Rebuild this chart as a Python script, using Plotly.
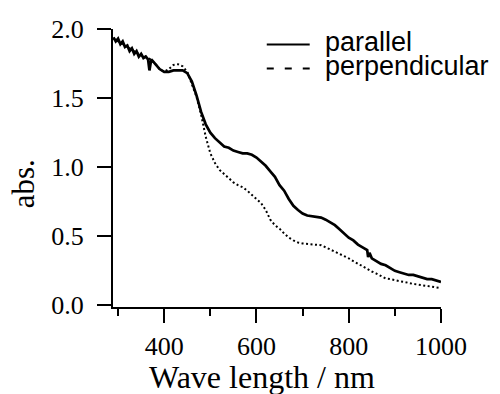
import plotly.graph_objects as go

# ---- data ----
wl_par = [290, 295, 300, 305, 310, 315, 320, 325, 330, 335, 340, 345, 350, 355, 360, 365, 368,
          372, 380, 390, 400, 410, 420, 430, 440, 450, 460, 470, 480, 490, 500, 510, 520, 530,
          540, 550, 560, 570, 580, 590, 600, 610, 620, 630, 640, 650, 660, 670, 680,
          690, 700, 710, 720, 730, 740, 750, 760, 770, 780, 790, 800, 810, 820,
          830, 840, 842, 845, 850, 860, 870, 880, 890, 900, 910, 920, 930, 940,
          950, 960, 970, 980, 990, 1000]
abs_par = [1.94, 1.91, 1.93, 1.89, 1.91, 1.87, 1.88, 1.84, 1.86, 1.82, 1.84, 1.80, 1.82, 1.79, 1.80,
           1.78, 1.70, 1.78, 1.75, 1.71, 1.69, 1.69, 1.70, 1.70, 1.70, 1.68, 1.62, 1.52, 1.40,
           1.31, 1.25, 1.21, 1.18, 1.15, 1.14, 1.12, 1.11, 1.10, 1.10, 1.09, 1.07, 1.04, 1.01,
           0.97, 0.93, 0.87, 0.83, 0.77, 0.72, 0.69, 0.665, 0.65, 0.645, 0.64, 0.635, 0.62,
           0.60, 0.58, 0.55, 0.52, 0.49, 0.47, 0.44, 0.42, 0.40, 0.35, 0.38, 0.34, 0.32, 0.30,
           0.29, 0.27, 0.25, 0.24, 0.23, 0.22, 0.22, 0.21, 0.20, 0.19, 0.19, 0.18, 0.17]

wl_perp = [290, 300, 310, 320, 330, 340, 350, 360, 370, 380, 390, 400, 410, 420,
           430, 440, 450, 460, 470, 480, 490, 500, 510, 520, 530, 540, 550, 560,
           570, 580, 590, 600, 610, 620, 630, 640, 650, 660, 670, 680, 690, 700,
           710, 720, 730, 740, 750, 760, 770, 780, 790, 800, 810, 820, 830, 840,
           850, 860, 870, 880, 890, 900, 910, 920, 930, 940, 950, 960, 970, 980,
           990, 1000]
abs_perp = [1.93, 1.91, 1.89, 1.87, 1.85, 1.83, 1.81, 1.80, 1.78, 1.75, 1.71, 1.69, 1.71, 1.74,
            1.745, 1.73, 1.69, 1.60, 1.51, 1.38, 1.22, 1.10, 1.03, 0.98, 0.95, 0.92, 0.89, 0.87,
            0.855, 0.83, 0.80, 0.77, 0.74, 0.69, 0.62, 0.58, 0.555, 0.52, 0.49, 0.47, 0.455, 0.448,
            0.445, 0.44, 0.44, 0.435, 0.42, 0.405, 0.39, 0.375, 0.355, 0.34, 0.32, 0.30, 0.28, 0.26,
            0.245, 0.23, 0.21, 0.195, 0.19, 0.18, 0.175, 0.17, 0.16, 0.155, 0.15, 0.145, 0.14, 0.135,
            0.13, 0.125]

series_names = ["parallel", "perpendicular"]
x_ticks = [400, 600, 800, 1000]
x_minor = [300, 500, 700, 900]
y_ticks = [0.0, 0.5, 1.0, 1.5, 2.0]
x_title = "Wave length / nm"
y_title = "abs."

# ---- layout geometry (pixels) ----
W, H = 500, 394
L, R, T, B = 113, 441.5, 29, 306.7

def px(x):
    return (x - L) / (R - L)

def py(y):
    return 1 - (y - T) / (B - T)

fig = go.Figure()
fig.add_trace(go.Scatter(x=wl_par, y=abs_par, mode="lines", name=series_names[0],
                         line=dict(color="black", width=2.7), showlegend=False))
fig.add_trace(go.Scatter(x=wl_perp, y=abs_perp, mode="lines", name=series_names[1],
                         line=dict(color="black", width=2, dash="2px,2.5px"), showlegend=False))

serif = "Liberation Serif, Times New Roman, serif"
sans = "Liberation Sans, Arial, sans-serif"
tick_font = dict(family=serif, size=26, color="black")

fig.update_layout(
    width=W, height=H,
    font=dict(family=serif, size=26, color="black"),
    margin=dict(l=L, r=W - R, t=T, b=H - B, pad=0),
    paper_bgcolor="white", plot_bgcolor="white",
    showlegend=False,
)
fig.update_xaxes(range=[289, 1000], tickvals=x_ticks, ticktext=[str(v) for v in x_ticks],
                 ticks="outside", ticklen=14, tickwidth=2, tickcolor="black",
                 showline=True, linewidth=2, linecolor="black", showgrid=False, zeroline=False,
                 tickfont=tick_font, ticklabelstandoff=1,
                 minor=dict(tickvals=x_minor, ticks="outside", ticklen=7,
                            tickwidth=2, tickcolor="black", showgrid=False))
fig.update_yaxes(range=[-0.012, 2.0], tickvals=y_ticks, ticktext=["%.1f" % v for v in y_ticks],
                 ticks="outside", ticklen=14, tickwidth=2, tickcolor="black",
                 showline=True, linewidth=2, linecolor="black", showgrid=False, zeroline=False,
                 tickfont=tick_font, ticklabelstandoff=8)

# axis titles
fig.add_annotation(text=x_title, xref="paper", yref="paper", x=px(262), y=py(377),
                   xanchor="center", yanchor="middle", showarrow=False,
                   font=dict(family=serif, size=32, color="black"))
fig.add_annotation(text=y_title, xref="paper", yref="paper", x=px(23), y=py(184),
                   xanchor="center", yanchor="middle", showarrow=False, textangle=-90,
                   font=dict(family=serif, size=31, color="black"))

# legend
fig.add_shape(type="line", xref="paper", yref="paper", x0=px(267), x1=px(310),
              y0=py(44.5), y1=py(44.5), line=dict(color="black", width=2))
fig.add_shape(type="line", xref="paper", yref="paper", x0=px(267), x1=px(310),
              y0=py(68.5), y1=py(68.5), line=dict(color="black", width=2, dash="7px,11px"))
fig.add_annotation(text=series_names[0], xref="paper", yref="paper", x=px(323), y=py(42),
                   xanchor="left", yanchor="middle", showarrow=False,
                   font=dict(family=sans, size=27, color="black"))
fig.add_annotation(text=series_names[1], xref="paper", yref="paper", x=px(323), y=py(66),
                   xanchor="left", yanchor="middle", showarrow=False,
                   font=dict(family=sans, size=27, color="black"))

fig.write_html("out.html")
